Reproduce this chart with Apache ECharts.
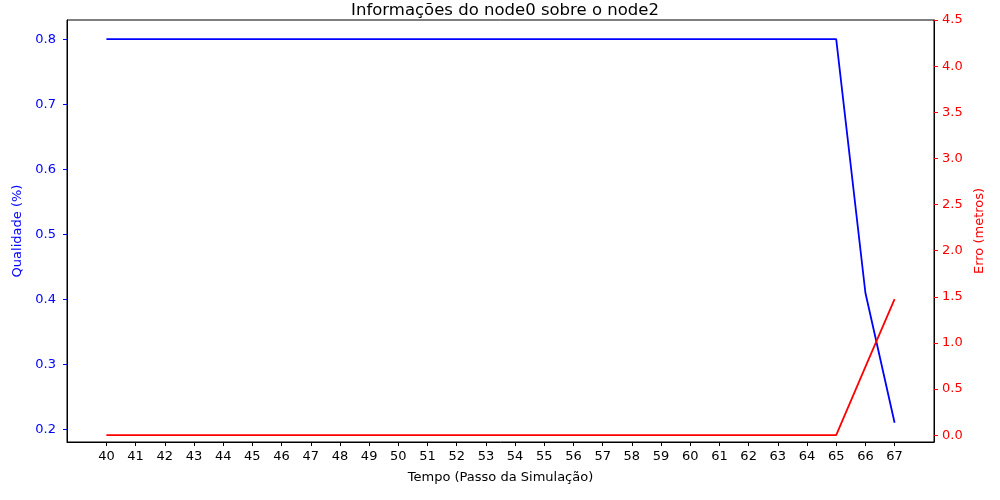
<!DOCTYPE html>
<html><head><meta charset="utf-8">
<script src="https://cdn.jsdelivr.net/npm/echarts@6/dist/echarts.min.js"></script>
<style>html,body{margin:0;padding:0;background:#fff}#c{width:1000px;height:500px}</style>
</head><body><div id="c"></div>
<script>
var steps = [40,41,42,43,44,45,46,47,48,49,50,51,52,53,54,55,56,57,58,59,60,61,62,63,64,65,66,67];
var qualidade = [0.8,0.8,0.8,0.8,0.8,0.8,0.8,0.8,0.8,0.8,0.8,0.8,0.8,0.8,0.8,0.8,0.8,0.8,0.8,0.8,0.8,0.8,0.8,0.8,0.8,0.8,0.41,0.21];
var erro = [0,0,0,0,0,0,0,0,0,0,0,0,0,0,0,0,0,0,0,0,0,0,0,0,0,0,0.74,1.475];
var leftTicks = [0.2,0.3,0.4,0.5,0.6,0.7,0.8];
var rightTicks = [0,0.5,1,1.5,2,2.5,3,3.5,4,4.5];

var font = 'DejaVu Sans';
var chart = echarts.init(document.getElementById('c'), null, {renderer:'canvas'});
chart.setOption({
  animation: false,
  backgroundColor: '#fff',
  title: {text: 'Informações do node0 sobre o node2', left: 500, textAlign: 'center', top: -3,
    textStyle: {fontFamily: font, fontSize: 16.5, fontWeight: 'normal', color: '#000'}},
  grid: {left: 67, right: 66, top: 20, bottom: 58, show: true, borderColor: '#000', borderWidth: 1, backgroundColor: 'transparent'},
  xAxis: {type: 'value', min: 38.65, max: 68.35,
    name: 'Tempo (Passo da Simulação)', nameLocation: 'middle', nameGap: 29,
    nameTextStyle: {fontFamily: font, fontSize: 13, color: '#000'},
    axisLine: {show: true, onZero: false, lineStyle: {color: '#000'}},
    axisTick: {show: true, customValues: steps, length: 4, lineStyle: {color: '#000'}},
    axisLabel: {customValues: steps, fontFamily: font, fontSize: 13, color: '#000', margin: 8},
    splitLine: {show: false}},
  yAxis: [
    {type: 'value', min: 0.1805, max: 0.8295, position: 'left',
     name: 'Qualidade (%)', nameLocation: 'middle', nameGap: 37,
     nameTextStyle: {fontFamily: font, fontSize: 13, color: '#0000ff'},
     axisLine: {show: true, onZero: false, lineStyle: {color: '#000'}},
     axisTick: {show: true, customValues: leftTicks, length: 4, lineStyle: {color: '#0000ff'}},
     axisLabel: {customValues: leftTicks, fontFamily: font, fontSize: 13, color: '#0000ff', margin: 11,
       formatter: function(v){return v.toFixed(1);}},
     splitLine: {show: false}},
    {type: 'value', min: -0.074, max: 4.5, position: 'right',
     name: 'Erro (metros)', nameLocation: 'middle', nameGap: 38,
     nameTextStyle: {fontFamily: font, fontSize: 13, color: '#ff0000'},
     axisLine: {show: true, onZero: false, lineStyle: {color: '#000'}},
     axisTick: {show: true, customValues: rightTicks, length: 4, lineStyle: {color: '#ff0000'}},
     axisLabel: {customValues: rightTicks, fontFamily: font, fontSize: 13, color: '#ff0000', margin: 8,
       formatter: function(v){return v.toFixed(1);}},
     splitLine: {show: false}}
  ],
  series: [
    {type: 'line', yAxisIndex: 0, data: steps.map(function(s,i){return [s, qualidade[i]];}),
     symbol: 'none', lineStyle: {color: '#0000ff', width: 1.8}, itemStyle: {color: '#0000ff'}},
    {type: 'line', yAxisIndex: 1, data: steps.map(function(s,i){return [s, erro[i]];}),
     symbol: 'none', lineStyle: {color: '#ff0000', width: 1.8}, itemStyle: {color: '#ff0000'}}
  ]
});
</script></body></html>
